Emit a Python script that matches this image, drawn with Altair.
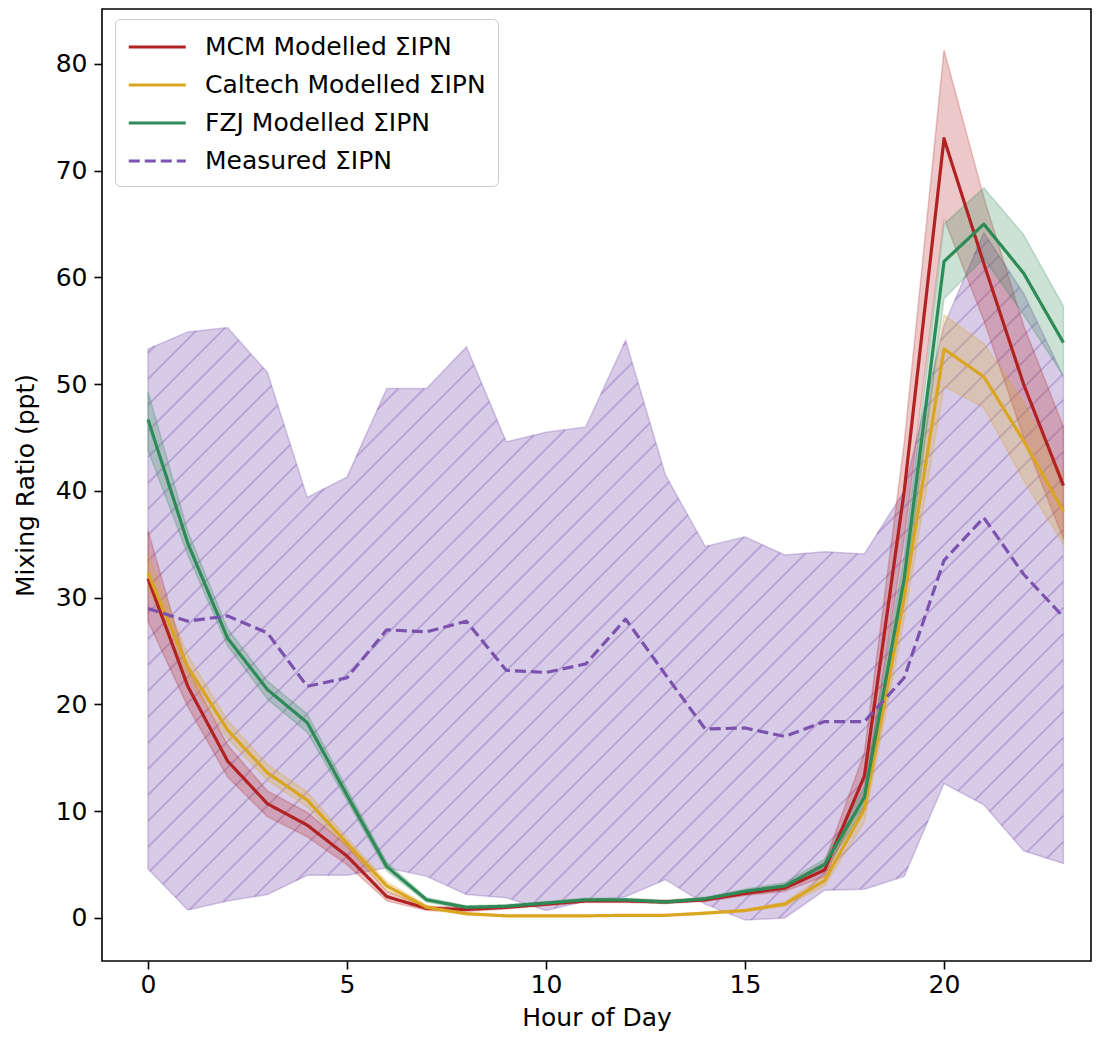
import altair as alt
import pandas as pd
import numpy as np

# ---------------- data ----------------
hours = list(range(24))

mcm = [31.8, 21.7, 14.7, 10.7, 8.7, 5.8, 2.0, 0.9, 0.8, 1.0, 1.3, 1.6,
       1.6, 1.5, 1.7, 2.3, 2.8, 4.5, 13.3, 40.0, 73.0, 61.3, 50.0, 40.5]
mcm_lo = [27.8, 19.8, 13.2, 9.5, 7.6, 5.0, 1.6, 0.7, 0.6, 0.85, 1.15, 1.45,
          1.45, 1.35, 1.55, 2.1, 2.5, 3.9, 11.5, 35.5, 65.5, 56.0, 45.0, 35.5]
mcm_hi = [36.3, 23.3, 16.2, 11.9, 9.9, 6.8, 2.5, 1.1, 1.0, 1.15, 1.45, 1.75,
          1.75, 1.65, 1.85, 2.5, 3.1, 5.2, 15.5, 44.5, 81.3, 67.5, 55.5, 46.0]

caltech = [32.3, 23.5, 17.6, 13.6, 11.05, 7.0, 3.0, 1.0, 0.4, 0.2, 0.2, 0.2,
           0.25, 0.25, 0.45, 0.7, 1.3, 3.5, 10.2, 30.0, 53.3, 50.7, 44.7, 38.1]
caltech_lo = [30.8, 22.5, 16.8, 12.9, 10.4, 6.6, 2.6, 0.8, 0.3, 0.15, 0.15, 0.15,
              0.2, 0.2, 0.35, 0.6, 1.1, 3.0, 9.0, 28.0, 49.8, 47.8, 41.0, 35.0]
caltech_hi = [34.0, 24.6, 18.5, 14.4, 11.8, 7.5, 3.4, 1.2, 0.5, 0.25, 0.25, 0.25,
              0.3, 0.3, 0.55, 0.8, 1.5, 4.0, 11.5, 33.0, 56.5, 53.8, 48.3, 41.3]

fzj = [46.7, 35.1, 26.2, 21.4, 18.3, 11.5, 4.8, 1.7, 1.0, 1.1, 1.4, 1.7,
       1.7, 1.5, 1.8, 2.5, 3.0, 5.0, 11.3, 31.8, 61.5, 65.0, 60.4, 53.9]
fzj_lo = [43.8, 34.0, 25.5, 20.5, 17.4, 11.0, 4.4, 1.5, 0.85, 0.95, 1.25, 1.55,
          1.55, 1.35, 1.65, 2.3, 2.7, 4.5, 10.3, 30.0, 58.0, 61.8, 56.5, 50.8]
fzj_hi = [49.3, 36.2, 27.1, 22.2, 19.1, 12.1, 5.2, 1.9, 1.15, 1.25, 1.55, 1.85,
          1.85, 1.65, 1.95, 2.7, 3.3, 5.5, 12.3, 34.0, 65.0, 68.4, 64.0, 57.3]

measured = [29.0, 27.8, 28.3, 26.7, 21.7, 22.5, 27.0, 26.8, 27.8, 23.2, 23.0, 23.8,
            28.0, 22.8, 17.7, 17.8, 17.0, 18.4, 18.4, 22.5, 33.5, 37.5, 32.2, 28.2]
measured_lo = [4.6, 0.75, 1.6, 2.2, 4.0, 4.0, 4.7, 3.9, 2.2, 1.9, 0.7, 1.6,
               2.0, 3.6, 1.3, -0.2, 0.0, 2.6, 2.7, 3.9, 12.6, 10.6, 6.3, 5.1]
measured_hi = [53.3, 54.9, 55.3, 51.1, 39.4, 41.3, 49.6, 49.6, 53.5, 44.6, 45.5, 46.0,
               54.1, 41.5, 34.8, 35.7, 34.0, 34.3, 34.1, 40.0, 55.5, 64.2, 58.5, 50.7]

series_names = ["MCM Modelled ΣIPN", "Caltech Modelled ΣIPN",
                "FZJ Modelled ΣIPN", "Measured ΣIPN"]
series_colors = ["#b22222", "#daa520", "#2e8b57", "#7b52ae"]

x_ticks = [0, 5, 10, 15, 20]
y_ticks = [0, 10, 20, 30, 40, 50, 60, 70, 80]

# ---------------- layout ----------------
W, H = 989, 952
XDOM = [-1.156, 23.693]
YDOM = [-4.03, 85.15]
FONT = "DejaVu Sans"
FS = 25
HATCH_STEP = 26.0

xs = alt.Scale(domain=XDOM, nice=False, zero=False)
ys = alt.Scale(domain=YDOM, nice=False, zero=False)
XT = "Hour of Day"
YT = "Mixing Ratio (ppt)"

# line table
rows = []
for name, vals in zip(series_names, [mcm, caltech, fzj, measured]):
    for h, v in zip(hours, vals):
        rows.append({"series": name, "hour": h, "value": v})
lines_df = pd.DataFrame(rows)


def band_df(lo, hi):
    return pd.DataFrame({"hour": hours, "lo": lo, "hi": hi})


# hatch segments (decorative "/" pattern clipped to the measured band)
def to_px(h, v):
    return ((np.asarray(h, float) - XDOM[0]) / (XDOM[1] - XDOM[0]) * W,
            (YDOM[1] - np.asarray(v, float)) / (YDOM[1] - YDOM[0]) * H)


pxs, pyU = to_px(hours, measured_hi)
_, pyL = to_px(hours, measured_lo)
segs = []
c = 0.0
while c < W + H:
    for i in range(len(hours) - 1):
        a0, b0 = pxs[i], pxs[i + 1] - pxs[i]
        lo_t, hi_t = 0.0, 1.0
        for a, b in [((c - a0 - pyU[i]), (-b0 - (pyU[i + 1] - pyU[i]))),
                     ((pyL[i] - c + a0), ((pyL[i + 1] - pyL[i]) + b0))]:
            if abs(b) < 1e-12:
                if a < 0:
                    lo_t, hi_t = 1.0, 0.0
            elif b > 0:
                lo_t = max(lo_t, -a / b)
            else:
                hi_t = min(hi_t, -a / b)
        if hi_t - lo_t > 1e-6:
            pts = []
            for t in (lo_t, hi_t):
                px = a0 + t * b0
                py = c - px
                pts.append((hours[i] + t,
                            YDOM[1] - py / H * (YDOM[1] - YDOM[0])))
            segs.append({"x": pts[0][0], "y": pts[0][1],
                         "x2": pts[1][0], "y2": pts[1][1]})
    c += HATCH_STEP
hatch_df = pd.DataFrame(segs)

# ---------------- layers ----------------
def band(df, color, op):
    return alt.Chart(df).mark_area(
        color=color, fillOpacity=op, stroke=color, strokeOpacity=op,
        strokeWidth=1.5
    ).encode(
        x=alt.X("hour:Q", scale=xs, title=XT),
        y=alt.Y("lo:Q", scale=ys, title=YT),
        y2="hi:Q",
    )


meas_band = alt.Chart(band_df(measured_lo, measured_hi)).mark_area(
    color=series_colors[3], fillOpacity=0.3, stroke=series_colors[3],
    strokeOpacity=0.3, strokeWidth=1.5
).encode(
    x=alt.X("hour:Q", scale=xs, title=XT, axis=alt.Axis(values=x_ticks)),
    y=alt.Y("lo:Q", scale=ys, title=YT, axis=alt.Axis(values=y_ticks)),
    y2="hi:Q",
)

hatch = alt.Chart(hatch_df).mark_rule(
    color=series_colors[3], opacity=0.33, strokeWidth=1.8
).encode(
    x=alt.X("x:Q", scale=xs, title=XT),
    y=alt.Y("y:Q", scale=ys, title=YT),
    x2="x2:Q",
    y2="y2:Q",
)

b_mcm = band(band_df(mcm_lo, mcm_hi), series_colors[0], 0.25)
b_cal = band(band_df(caltech_lo, caltech_hi), series_colors[1], 0.25)
b_fzj = band(band_df(fzj_lo, fzj_hi), series_colors[2], 0.25)

lines = alt.Chart(lines_df).mark_line(strokeWidth=3.2, strokeJoin="round").encode(
    x=alt.X("hour:Q", scale=xs, title=XT),
    y=alt.Y("value:Q", scale=ys, title=YT),
    color=alt.Color("series:N", title=None,
                    scale=alt.Scale(domain=series_names, range=series_colors)),
    strokeDash=alt.StrokeDash("series:N", title=None,
                              scale=alt.Scale(domain=series_names,
                                              range=[[1, 0], [1, 0], [1, 0], [11, 5]])),
    order=alt.Order("hour:Q"),
)

chart = alt.layer(meas_band, hatch, b_mcm, b_cal, b_fzj, lines).properties(
    width=W, height=H,
    autosize=alt.AutoSizeParams(type="none"),
    padding={"left": 94, "top": 1, "right": 1, "bottom": 74},
).configure_view(
    stroke="black", strokeWidth=1.6
).configure_axis(
    grid=False, domain=False, ticks=True, tickColor="black", tickSize=8,
    tickWidth=1.6, labelFont=FONT, labelFontSize=FS, labelColor="black",
    titleFont=FONT, titleFontSize=FS, titleFontWeight="normal",
    titleColor="black",
).configure_axisY(
    labelPadding=7, titlePadding=17,
).configure_axisX(
    labelPadding=3, titlePadding=8,
).configure_legend(
    orient="none", legendX=13, legendY=10, padding=12,
    strokeColor="#cccccc", fillColor="white", cornerRadius=5,
    labelFont=FONT, labelFontSize=FS, labelColor="black", labelLimit=600,
    symbolType="M-1,0H3", symbolSize=812, symbolStrokeWidth=3.2,
    labelOffset=46, rowPadding=9,
)

chart.save("out.html", embed_options={"renderer": "svg", "actions": False})
